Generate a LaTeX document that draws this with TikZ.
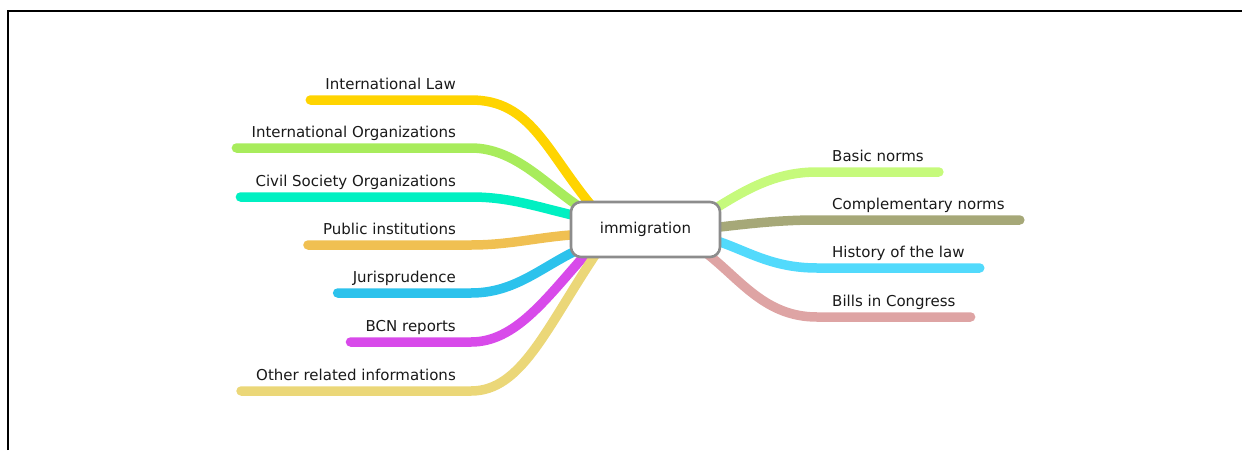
\documentclass[tikz,border=0pt]{standalone}
\usepackage{fontspec}
\setmainfont{DejaVu Sans}
\usetikzlibrary{calc,backgrounds}

\definecolor{cIlaw}{HTML}{FFD400}
\definecolor{cIorg}{HTML}{A8EC5C}
\definecolor{cCivil}{HTML}{00F0C2}
\definecolor{cPubl}{HTML}{F0C052}
\definecolor{cJuris}{HTML}{2CC2EC}
\definecolor{cBcn}{HTML}{D84AEA}
\definecolor{cOther}{HTML}{EBD778}
\definecolor{cBasic}{HTML}{C6FA7C}
\definecolor{cCompl}{HTML}{A6A878}
\definecolor{cHist}{HTML}{52DAFC}
\definecolor{cBills}{HTML}{DEA4A4}

\begin{document}
\begin{tikzpicture}[
  x=1pt, y=-1pt,
  lbl/.style={font=\fontsize{15}{18}\selectfont, text=black!90,
    inner xsep=15pt, inner ysep=0pt, text height=12pt, text depth=10pt},
  lleft/.style={lbl, anchor=south east},
  lright/.style={lbl, anchor=south west},
  hub/.style={draw=black!45, line width=2.6pt, fill=white, rounded corners=10pt,
    minimum width=149pt, minimum height=55pt,
    font=\fontsize{15}{18}\selectfont, text=black!90},
  branch/.style={line width=9.5pt, line cap=round, line join=round},
  frame/.style={line width=2pt, black},
]

\useasboundingbox (0,0) rectangle (1242,450);

% outer frame (top and left edges only)
\draw[frame] (8,450) -- (8,11) -- (1242,11);

% Centre topic
\node[hub] (hub) at (645.5,229.5) {immigration};

% ── Left labels ──
\node[lleft] (ilaw)  at (471,100) {International Law};
\node[lleft] (iorg)  at (471,148) {International Organizations};
\node[lleft] (civil) at (471,197) {Civil Society Organizations};
\node[lleft] (publ)  at (471,245) {Public institutions};
\node[lleft] (juris) at (471,293) {Jurisprudence};
\node[lleft] (bcn)   at (471,342) {BCN reports};
\node[lleft] (other) at (471,391) {Other related informations};

% ── Right labels ──
\node[lright] (basic) at (817,172) {Basic norms};
\node[lright] (compl) at (817,220) {Complementary norms};
\node[lright] (hist)  at (817,268) {History of the law};
\node[lright] (bills) at (817,317) {Bills in Congress};

% Branch ends, tucked behind the box
\coordinate (h-ilaw)  at ($(hub.center)+(-55,-25)$);
\coordinate (h-iorg)  at ($(hub.center)+(-65,-22)$);
\coordinate (h-civil) at ($(hub.center)+(-67,-13)$);
\coordinate (h-publ)  at ($(hub.center)+(-67,5)$);
\coordinate (h-juris) at ($(hub.center)+(-67,20)$);
\coordinate (h-bcn)   at ($(hub.center)+(-60,25)$);
\coordinate (h-other) at ($(hub.center)+(-50,25)$);
\coordinate (h-basic) at ($(hub.center)+(65,-18)$);
\coordinate (h-compl) at ($(hub.center)+(70,-2)$);
\coordinate (h-hist)  at ($(hub.center)+(67,10)$);
\coordinate (h-bills) at ($(hub.center)+(60,23)$);

\begin{pgfonlayer}{background}
% ── Left branches ──
\draw[branch, cIlaw]  (ilaw.south west) -- (ilaw.south east)
  .. controls +(59,0) and +(-45,-55) .. (h-ilaw);
\draw[branch, cIorg]  (iorg.south west) -- (iorg.south east)
  .. controls +(44,0) and +(-35,-23) .. (h-iorg);
\draw[branch, cCivil] (civil.south west) -- (civil.south east)
  .. controls +(39,0) and +(-43,-10) .. (h-civil);
\draw[branch, cPubl]  (publ.south west) -- (publ.south east)
  .. controls +(40,0) and +(-38,2) .. (h-publ);
\draw[branch, cJuris] (juris.south west) -- (juris.south east)
  .. controls +(44,0) and +(-38,18) .. (h-juris);
\draw[branch, cBcn]   (bcn.south west) -- (bcn.south east)
  .. controls +(44,0) and +(-40,45) .. (h-bcn);
\draw[branch, cOther] (other.south west) -- (other.south east)
  .. controls +(50,0) and +(-50,75) .. (h-other);

% ── Right branches ──
\draw[branch, cBasic] (h-basic) .. controls +(35,-22) and +(-42,0) .. (basic.south west)
  -- (basic.south east);
\draw[branch, cCompl] (h-compl) .. controls +(35,-4) and +(-37,0) .. (compl.south west)
  -- (compl.south east);
\draw[branch, cHist]  (h-hist) .. controls +(33,10) and +(-47,0) .. (hist.south west)
  -- (hist.south east);
\draw[branch, cBills] (h-bills) .. controls +(35,27) and +(-52,0) .. (bills.south west)
  -- (bills.south east);
\end{pgfonlayer}

\end{tikzpicture}
\end{document}
